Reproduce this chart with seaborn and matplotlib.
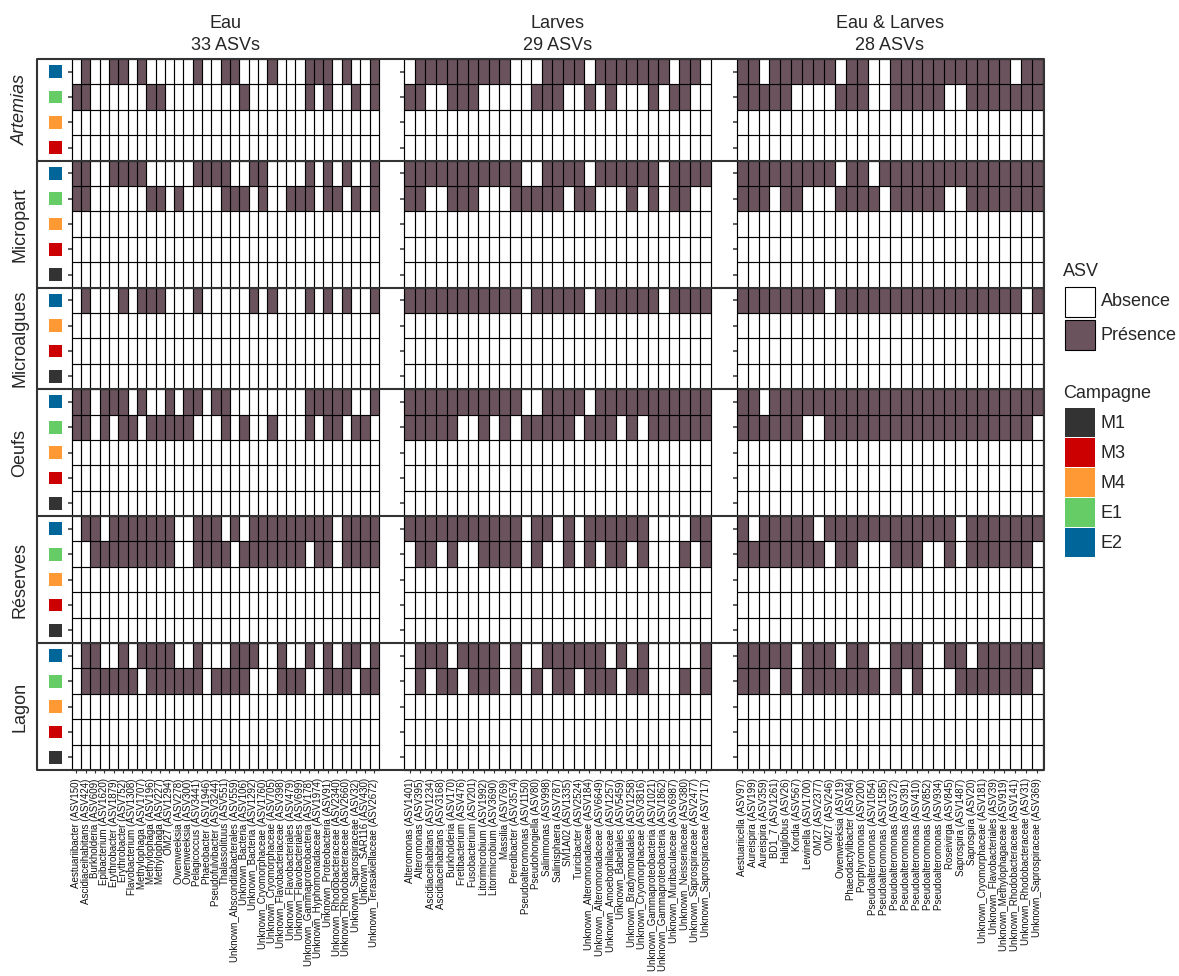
import numpy as np
import pandas as pd
import matplotlib as mpl
import matplotlib.pyplot as plt
from matplotlib.colors import ListedColormap
from matplotlib.patches import Rectangle
import matplotlib.transforms as mtransforms
import seaborn as sns

sns.set_theme(style='white')
plt.rcParams['font.family'] = ['Liberation Sans', 'DejaVu Sans']

# -- data ------------------------------------------------------------------
groups = ['Artemias', 'Micropart', 'Microalgues', 'Oeufs', 'Réserves', 'Lagon']
group_campaigns = {
    'Artemias': ['E2', 'E1', 'M4', 'M3'],
    'Micropart': ['E2', 'E1', 'M4', 'M3', 'M1'],
    'Microalgues': ['E2', 'M4', 'M3', 'M1'],
    'Oeufs': ['E2', 'E1', 'M4', 'M3', 'M1'],
    'Réserves': ['E2', 'E1', 'M4', 'M3', 'M1'],
    'Lagon': ['E2', 'E1', 'M4', 'M3', 'M1'],
}
campaign_order = ['M1', 'M3', 'M4', 'E1', 'E2']

col_titles = ['Eau\n33 ASVs', 'Larves\n29 ASVs', 'Eau & Larves\n28 ASVs']

asv_eau = [
    'Aestuariibacter (ASV150)', 'Ascidiaceihabitans (ASV424)', 'Burkholderia (ASV609)',
    'Epibacterium (ASV1620)', 'Erythrobacter (ASV1879)', 'Erythrobacter (ASV752)',
    'Flavobacterium (ASV1308)', 'Methylophaga (ASV1707)', 'Methylophaga (ASV196)',
    'Methylophaga (ASV227)', 'OM27 (ASV1294)', 'Owenweeksia (ASV278)',
    'Owenweeksia (ASV300)', 'Pelagicoccus (ASV3441)', 'Phaeobacter (ASV1946)',
    'Pseudofulvibacter (ASV3244)', 'Thalassolituus (ASV551)',
    'Unknown_Absconditabacterales (ASV559)', 'Unknown_Bacteria (ASV106)',
    'Unknown_Bacteria (ASV1292)', 'Unknown_Cryomorphaceae (ASV1760)',
    'Unknown_Cryomorphaceae (ASV705)', 'Unknown_Flavobacteriaceae (ASV398)',
    'Unknown_Flavobacteriales (ASV479)', 'Unknown_Flavobacteriales (ASV699)',
    'Unknown_Gammaproteobacteria (ASV178)', 'Unknown_Hyphomonadaceae (ASV1974)',
    'Unknown_Proteobacteria (ASV91)', 'Unknown_Rhodobacteraceae (ASV2340)',
    'Unknown_Rhodobacteraceae (ASV2660)', 'Unknown_Saprospiraceae (ASV32)',
    'Unknown_SAR116 (ASV430)', 'Unknown_Terasakiellaceae (ASV2672)',
]
asv_larves = [
    'Alteromonas (ASV1401)', 'Alteromonas (ASV395)', 'Ascidiaceihabitans (ASV1234)',
    'Ascidiaceihabitans (ASV3168)', 'Burkholderia (ASV170)', 'Fretibacterium (ASV476)',
    'Fusobacterium (ASV201)', 'Litorimicrobium (ASV1992)', 'Litorimicrobium (ASV3690)',
    'Massilia (ASV769)', 'Peredibacter (ASV3574)', 'Pseudoalteromonas (ASV1150)',
    'Pseudohongiella (ASV80)', 'Salinimonas (ASV998)', 'Salinisphaera (ASV787)',
    'SM1A02 (ASV1335)', 'Turicibacter (ASV2524)', 'Unknown_Alteromonadaceae (ASV184)',
    'Unknown_Alteromonadaceae (ASV6649)', 'Unknown_Amoebophilaceae (ASV1257)',
    'Unknown_Babeliales (ASV5459)', 'Unknown_Bradymonadales (ASV1258)',
    'Unknown_Cryomorphaceae (ASV3816)', 'Unknown_Gammaproteobacteria (ASV1021)',
    'Unknown_Gammaproteobacteria (ASV1862)', 'Unknown_Muribaculaceae (ASV6987)',
    'Unknown_Neisseriaceae (ASV380)', 'Unknown_Saprospiraceae (ASV2477)',
    'Unknown_Saprospiraceae (ASV717)',
]
asv_both = [
    'Aestuariicella (ASV97)', 'Aureispira (ASV199)', 'Aureispira (ASV359)',
    'BD1_7 (ASV1261)', 'Haliglobus (ASV26)', 'Kordia (ASV567)', 'Lewinella (ASV1700)',
    'OM27 (ASV2377)', 'OM27 (ASV246)', 'Owenweeksia (ASV19)',
    'Phaeodactylibacter (ASV84)', 'Porphyromonas (ASV200)',
    'Pseudoalteromonas (ASV1054)', 'Pseudoalteromonas (ASV1585)',
    'Pseudoalteromonas (ASV372)', 'Pseudoalteromonas (ASV391)',
    'Pseudoalteromonas (ASV410)', 'Pseudoalteromonas (ASV852)',
    'Pseudoalteromonas (ASV934)', 'Roseivirga (ASV845)', 'Saprospira (ASV1487)',
    'Saprospira (ASV20)', 'Unknown_Cryomorphaceae (ASV181)',
    'Unknown_Flavobacteriales (ASV39)', 'Unknown_Methylophagaceae (ASV919)',
    'Unknown_Rhodobacteraceae (ASV141)', 'Unknown_Rhodobacteraceae (ASV31)',
    'Unknown_Saprospiraceae (ASV369)',
]

# 1 = présence, 0 = absence ; rows not listed are all absent
eau_presence = {
    ('Artemias', 'E2'):    '0100110100 0001001100 0100011101 001',
    ('Artemias', 'E1'):    '1100000011 0000000010 0000010100 101',
    ('Micropart', 'E2'):   '1100111100 0001111001 1000010101 001',
    ('Micropart', 'E1'):   '1100000011 0100001110 1001110110 101',
    ('Microalgues', 'E2'): '0100010111 0001000001 0100010101 001',
    ('Oeufs', 'E2'):       '1101110100 1011011000 0000011111 001',
    ('Oeufs', 'E1'):       '1101011011 1110001010 0100010110 110',
    ('Réserves', 'E2'):    '0110111111 1001110101 1111111101 111',
    ('Réserves', 'E1'):    '0011111111 1001111011 1111101101 111',
    ('Lagon', 'E2'):       '0110010111 1001000111 0010010101 101',
    ('Lagon', 'E1'):       '0111111011 1111011110 0011100111 011',
}
larves_presence = {
    ('Artemias', 'E2'):    '0111111111 0001111011 111110110',
    ('Artemias', 'E1'):    '1100111000 0011100101 000101100',
    ('Micropart', 'E2'):   '1111111111 1001111011 111101111',
    ('Micropart', 'E1'):   '1100111000 1111101100 010101100',
    ('Microalgues', 'E2'): '1111111111 1011111011 111101111',
    ('Oeufs', 'E2'):       '1111111111 1001111011 111111111',
    ('Oeufs', 'E1'):       '1111100101 0111110111 010111111',
    ('Réserves', 'E2'):    '1111111111 1011010111 111000011',
    ('Réserves', 'E1'):    '0110100111 1010010101 101000101',
    ('Lagon', 'E2'):       '0111011110 1001111110 101000001',
    ('Lagon', 'E1'):       '0101101110 1010110111 011000101',
}
both_presence = {
    ('Artemias', 'E2'):    '1101111110 1100111111 11111011',
    ('Artemias', 'E1'):    '1111100001 1100111110 01111111',
    ('Micropart', 'E2'):   '1111111110 1101111111 11111111',
    ('Micropart', 'E1'):   '1110110001 1110111110 01111111',
    ('Microalgues', 'E2'): '1111111101 1111111111 11111101',
    ('Oeufs', 'E2'):       '1101111111 1111111111 11111111',
    ('Oeufs', 'E1'):       '1111110011 1111111111 11111110',
    ('Réserves', 'E2'):    '1011111011 1111111111 01111111',
    ('Réserves', 'E1'):    '1111111101 1000111001 01111110',
    ('Lagon', 'E2'):       '1111101110 1100111001 10111111',
    ('Lagon', 'E1'):       '1110101111 1110101000 11111110',
}

# -- style -----------------------------------------------------------------
PRES_COLOR = '#6B535E'
camp_colors = {'M1': '#333333', 'M3': '#CC0000', 'M4': '#FF9933',
               'E1': '#66CC66', 'E2': '#006699'}
FRAME = '#333333'
W, H = 1179, 976
FS = 13


def to_row(code, n):
    if code is None:
        return [0] * n
    return [int(ch) for ch in code.replace(' ', '')]


def px_box(x0, x1, y0, y1):
    return [x0 / W, 1 - y1 / H, (x1 - x0) / W, (y1 - y0) / H]


def plot_grid():
    fig = plt.figure(figsize=(W / 100, H / 100), dpi=100)
    cmap = ListedColormap(['white', PRES_COLOR])

    columns = [(asv_eau, eau_presence), (asv_larves, larves_presence),
               (asv_both, both_presence)]
    col_x = [(71.7, 379.0), (404.3, 711.0), (736.7, 1042.7)]
    top_px, bot_px = 59, 770
    n_rows = sum(len(group_campaigns[g]) for g in groups)
    row_h = (bot_px - top_px) / n_rows

    bounds = [top_px]
    y = top_px
    for g in groups:
        camps = group_campaigns[g]
        y1 = y + len(camps) * row_h
        last = g == groups[-1]
        for c, (labels, presence) in enumerate(columns):
            mat = pd.DataFrame([to_row(presence.get((g, k)), len(labels)) for k in camps],
                               index=camps, columns=labels)
            ax = fig.add_axes(px_box(col_x[c][0], col_x[c][1], y, y1))
            sns.heatmap(mat, ax=ax, cmap=cmap, vmin=0, vmax=1, cbar=False,
                        linewidths=0, xticklabels=last, yticklabels=False)
            # cell borders, drawn as thin antialiased lines
            nr, nc = mat.shape
            ax.vlines(np.arange(nc + 1), 0, nr, color='black', lw=0.85, clip_on=False)
            ax.hlines(np.arange(nr + 1), 0, nc, color='black', lw=0.85, clip_on=False)
            ax.set_xlabel('')
            ax.set_ylabel('')
            ax.set_yticks(np.arange(nr) + 0.5)
            ax.set_yticklabels([])
            ax.tick_params(axis='y', left=True, length=3, width=1.1, color=FRAME)
            if last:
                ax.tick_params(axis='x', bottom=True, length=2.5, width=0.8,
                               color=FRAME, pad=3.5)
                plt.setp(ax.get_xticklabels(), rotation=90, ha='center',
                         va='top', fontsize=7, color='#111111')
            if c == 0:
                # campaign colour squares next to the rows
                trans = mtransforms.blended_transform_factory(ax.transAxes, ax.transData)
                ax.scatter([-0.054] * nr, np.arange(nr) + 0.5,
                           transform=trans, marker='s', s=85, linewidths=0,
                           c=[camp_colors[k] for k in camps], clip_on=False)
        # row strip label
        fig.text(20 / W, 1 - (y + y1) / 2 / H, g, rotation=90, ha='center',
                 va='center', fontsize=FS,
                 style='italic' if g == 'Artemias' else 'normal')
        y = y1
        bounds.append(y)

    # column titles
    for c, t in enumerate(col_titles):
        fig.text((col_x[c][0] + col_x[c][1]) / 2 / W, 1 - 54 / H, t,
                 ha='center', va='bottom', fontsize=FS, linespacing=1.4)

    # frame and group separators, legends
    ov = fig.add_axes([0, 0, 1, 1], zorder=10)
    ov.set_xlim(0, W)
    ov.set_ylim(H, 0)
    ov.axis('off')
    ov.patch.set_alpha(0)
    for yb in bounds:
        ov.plot([37, 1044], [yb, yb], color=FRAME, lw=1.5, solid_capstyle='butt')
    ov.plot([37, 37], [top_px, bot_px], color=FRAME, lw=1.5)
    ov.plot([1043.5, 1043.5], [top_px, bot_px], color=FRAME, lw=1.5)

    ov.text(1063, 272, 'ASV', ha='left', va='center', fontsize=FS)
    for i, (lab, col) in enumerate([('Absence', 'white'), ('Présence', PRES_COLOR)]):
        y0 = 287 + i * 33
        ov.add_patch(Rectangle((1065, y0), 30, 30, facecolor=col, edgecolor='black', lw=0.8))
        ov.text(1101, y0 + 15, lab, ha='left', va='center', fontsize=FS)

    ov.text(1063, 393, 'Campagne', ha='left', va='center', fontsize=FS)
    for i, k in enumerate(campaign_order):
        y0 = 408 + i * 30
        ov.add_patch(Rectangle((1065, y0), 30, 29, facecolor=camp_colors[k], edgecolor='none'))
        ov.text(1101, y0 + 15, k, ha='left', va='center', fontsize=FS)

    fig.savefig('out.png', dpi=100)


if __name__ == '__main__':
    plot_grid()
